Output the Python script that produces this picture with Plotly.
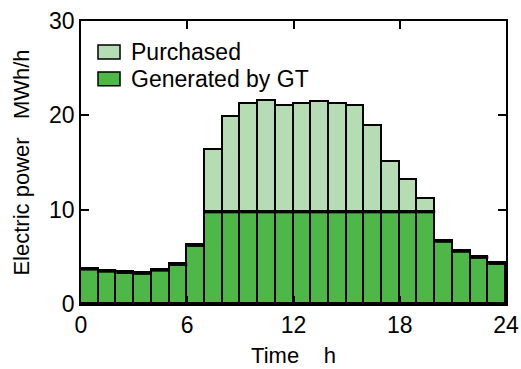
import plotly.graph_objects as go

# Hourly electric power balance (MWh/h)
hours = list(range(24))
generated_gt = [3.71, 3.49, 3.35, 3.26, 3.60, 4.20, 6.22,
                9.78, 9.78, 9.78, 9.78, 9.78, 9.78, 9.78, 9.78, 9.78, 9.78, 9.78, 9.78, 9.78,
                6.66, 5.60, 4.95, 4.31]
total_demand = [3.71, 3.49, 3.35, 3.26, 3.60, 4.20, 6.22,
                16.31, 19.78, 21.20, 21.55, 20.97, 21.19, 21.43, 21.17, 21.00, 18.87, 15.04, 13.12, 11.12,
                6.66, 5.60, 4.95, 4.31]
purchased = [round(t - g, 2) for t, g in zip(total_demand, generated_gt)]

x_ticks = [0, 6, 12, 18, 24]
y_ticks = [0, 10, 20, 30]

DARK = "#4db848"
LIGHT = "#b6dcb4"
FONT = "Liberation Sans"

xc = [h + 0.5 for h in hours]

fig = go.Figure()
fig.add_trace(go.Bar(x=xc, y=generated_gt, width=1, name="Generated by GT",
                     marker=dict(color=DARK, line=dict(color="black", width=1.6)),
                     showlegend=False))
fig.add_trace(go.Bar(x=xc, y=purchased, width=1, name="Purchased",
                     marker=dict(color=LIGHT, line=dict(color="black", width=1.6)),
                     showlegend=False))

# heavy top edge of the GT generation bars
ex, ey = [], []
for h, g in zip(hours, generated_gt):
    ex += [h, h + 1, None]
    ey += [g, g, None]
fig.add_trace(go.Scatter(x=ex, y=ey, mode="lines", line=dict(color="black", width=3.2),
                         showlegend=False, hoverinfo="skip"))

# legend drawn as swatches + labels
legend_items = [("Purchased", LIGHT, 0.915), ("Generated by GT", DARK, 0.820)]
for label, col, ytop in legend_items:
    fig.add_shape(type="rect", xref="paper", yref="paper",
                  x0=0.04, x1=0.0918, y0=ytop - 0.049, y1=ytop,
                  fillcolor=col, line=dict(color="black", width=1.5))
    fig.add_annotation(xref="paper", yref="paper", x=0.113, y=ytop - 0.0245,
                       text=label, showarrow=False, xanchor="left", yanchor="middle",
                       font=dict(family=FONT, size=23, color="black"))

axis_common = dict(showline=True, linecolor="black", linewidth=1.6, mirror="ticks",
                   ticks="inside", ticklen=8, tickwidth=1.5, tickcolor="black",
                   showgrid=False, zeroline=False, automargin=False,
                   tickfont=dict(family=FONT, size=23, color="black"))

fig.update_layout(
    barmode="stack",
    bargap=0,
    width=521, height=369,
    margin=dict(l=81, r=15, t=21, b=65),
    paper_bgcolor="white", plot_bgcolor="white",
    xaxis=dict(range=[0, 24], tickvals=x_ticks,
               title=dict(text="Time\u00a0\u00a0\u00a0\u00a0h", font=dict(family=FONT, size=22, color="black"),
                          standoff=10),
               **axis_common),
    yaxis=dict(range=[0, 30], tickvals=y_ticks,
               title=dict(text="Electric power\u00a0\u00a0\u00a0MWh/h",
                          font=dict(family=FONT, size=22, color="black"), standoff=13),
               **axis_common),
)

fig.write_html("out.html")
